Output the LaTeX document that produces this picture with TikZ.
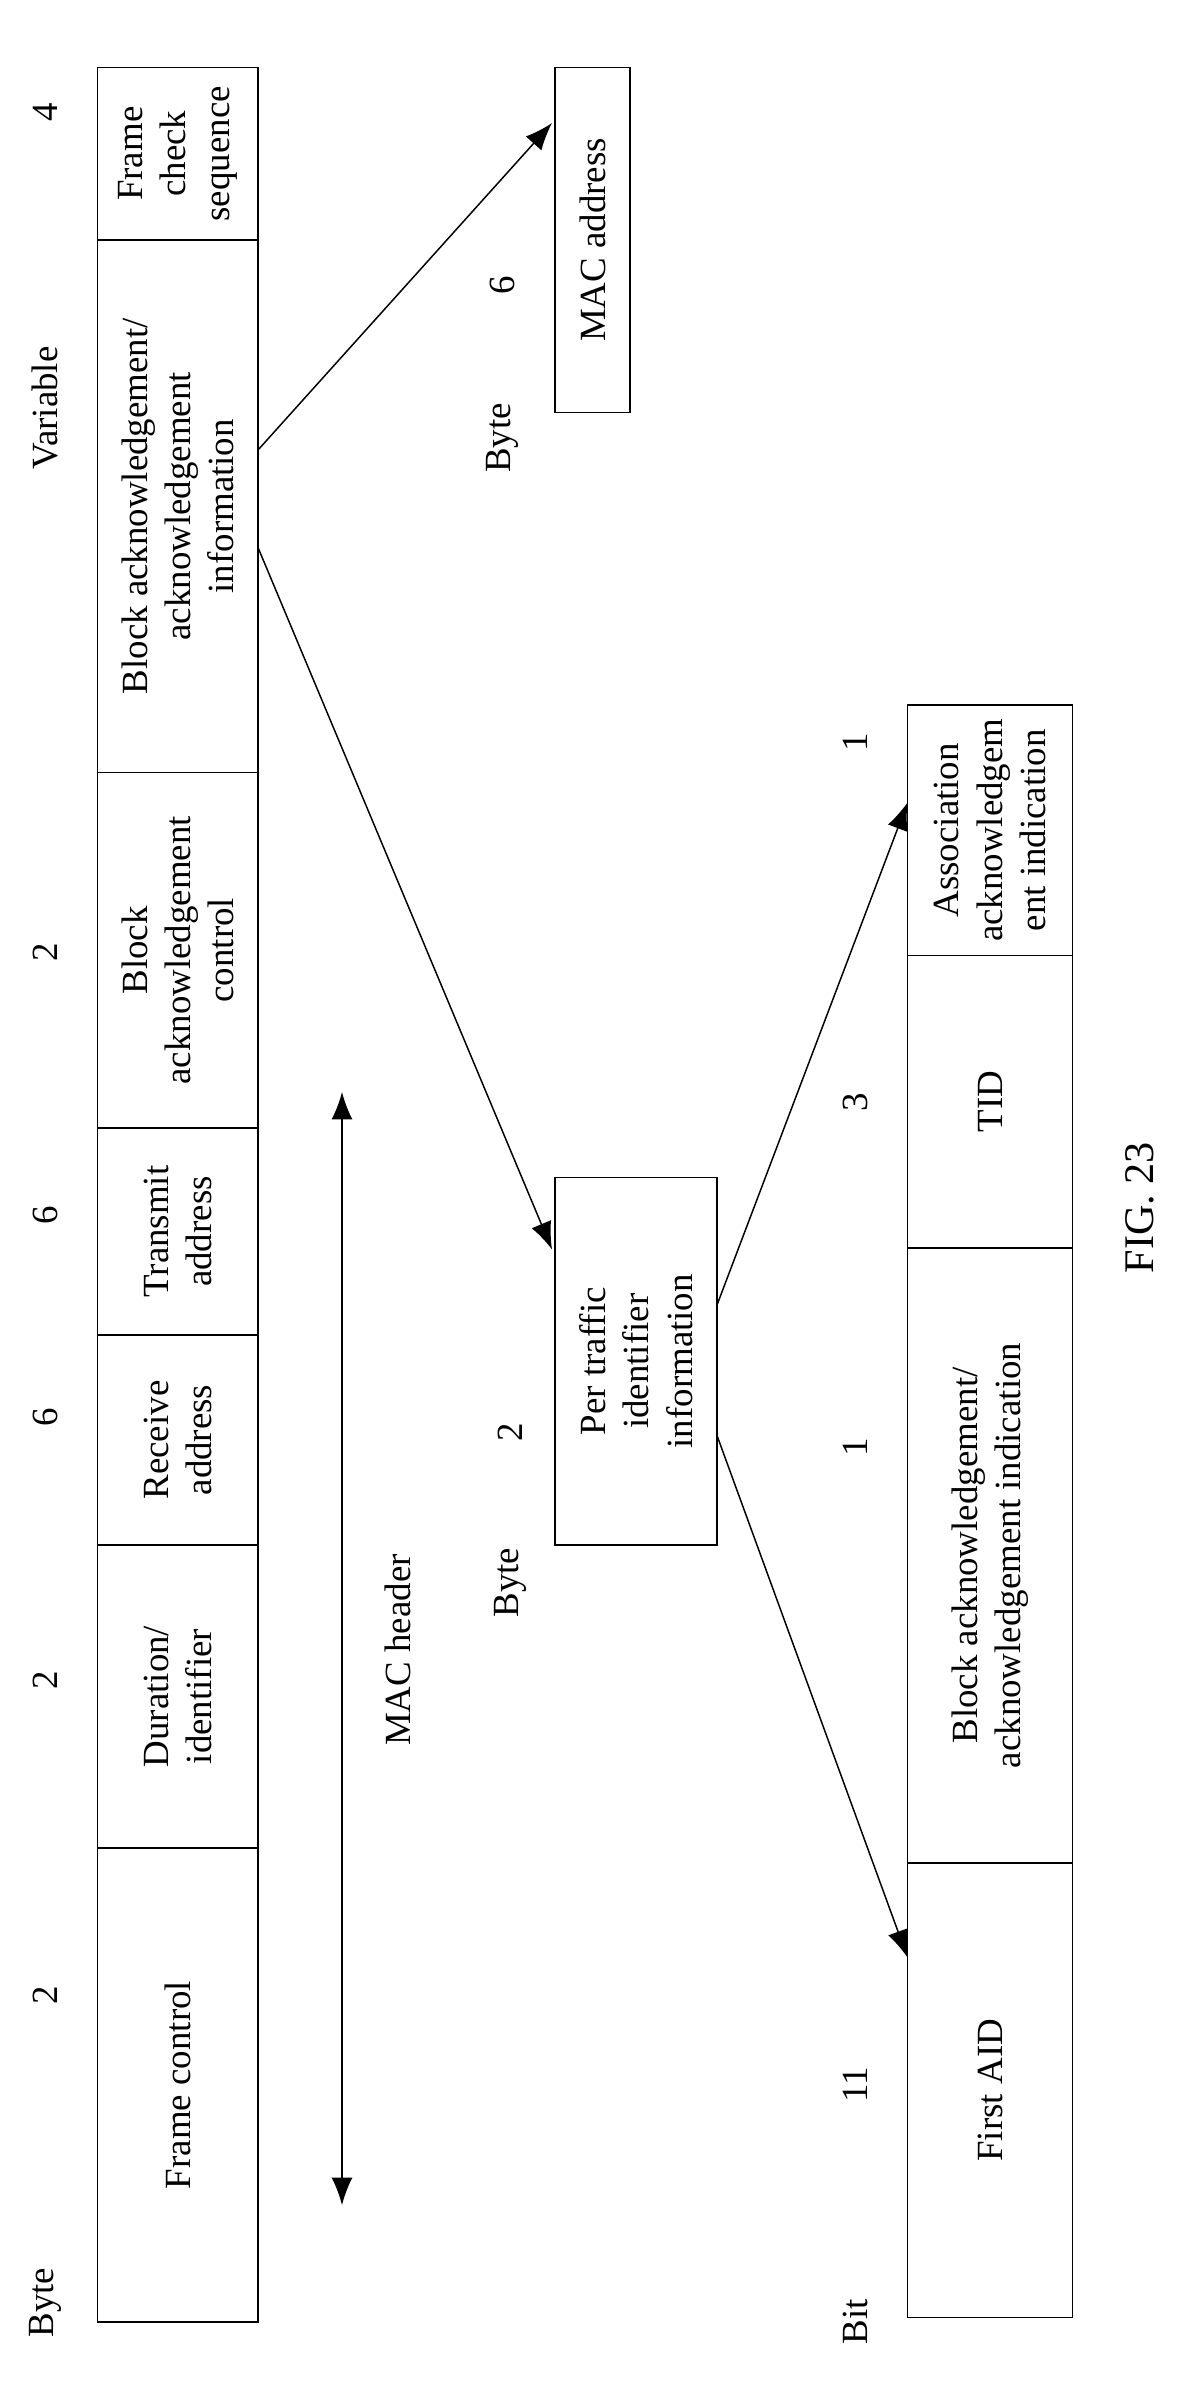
\documentclass[tikz,border=0pt]{standalone}
\usetikzlibrary{arrows.meta}
\usepackage{fontspec}
\setmainfont{Liberation Serif}
\begin{document}
\begin{tikzpicture}[x=0.05cm,y=-0.05cm,
  fld/.style={draw,line width=1.4pt,rotate=90,align=center,inner sep=0pt,font=\fontsize{35}{41}\selectfont},
  lbl/.style={rotate=90,font=\fontsize{35}{41}\selectfont,inner sep=0pt},
  arr/.style={line width=1.4pt,-{Latex[length=26pt,width=20pt]}}]
\useasboundingbox (0,0) rectangle (794.7,1588);
% top frame, x 65..172
\node[fld,minimum width=5.75cm,minimum height=5.35cm] (fcs) at (118.5,102.5) {Frame\\check\\sequence};
\node[fld,minimum width=17.75cm,minimum height=5.35cm] (bai) at (118.5,337.5) {Block acknowledgement/\\acknowledgement\\information};
\node[fld,minimum width=11.85cm,minimum height=5.35cm] (bac) at (118.5,633.5) {Block\\acknowledgement\\control};
\node[fld,minimum width=6.9cm,minimum height=5.35cm] (ta) at (118.5,821) {Transmit\\address};
\node[fld,minimum width=7cm,minimum height=5.35cm] (ra) at (118.5,960) {Receive\\address};
\node[fld,minimum width=10.1cm,minimum height=5.35cm] (dur) at (118.5,1131) {Duration/\\identifier};
\node[fld,minimum width=15.8cm,minimum height=5.35cm] (fc) at (118.5,1390) {Frame control};
\node[lbl] (b4) at (30,75) {4};
\node[lbl] (bv) at (30,272) {Variable};
\node[lbl] (b2a) at (30,635) {2};
\node[lbl] (b6a) at (30,810) {6};
\node[lbl] (b6b) at (30,945) {6};
\node[lbl] (b2b) at (30,1120) {2};
\node[lbl] (b2c) at (30,1330) {2};
\node[lbl] (byte1) at (30,1535) {Byte};
% MAC header
\coordinate (mh1) at (228,728);
\coordinate (mh2) at (228,1470);
\draw[line width=1.4pt,{Latex[length=26pt,width=20pt]}-{Latex[length=26pt,width=20pt]}] (mh1) -- (mh2);
\node[lbl] (mhl) at (265,1100) {MAC header};
% MAC address
\node[fld,minimum width=11.5cm,minimum height=2.5cm] (mac) at (395,160) {MAC address};
\node[lbl] (b6c) at (335,190) {6};
\node[lbl] (byte2) at (335,292) {Byte};
% per traffic
\node[fld,minimum width=12.25cm,minimum height=5.4cm] (pti) at (424,907.5) {Per traffic\\identifier\\information};
\node[lbl] (b2d) at (340,955) {2};
\node[lbl] (byte3) at (340,1055) {Byte};
% bottom frame x 605..715
\node[fld,minimum width=8.35cm,minimum height=5.5cm] (aai) at (660,553.5) {Association\\acknowledgem\\ent indication};
\node[fld,minimum width=9.75cm,minimum height=5.5cm] (tid) at (660,734.5) {TID};
\node[fld,minimum width=20.5cm,minimum height=5.5cm] (bai2) at (660,1037) {Block acknowledgement/\\acknowledgement indication};
\node[fld,minimum width=15.15cm,minimum height=5.5cm] (aid) at (660,1393.5) {First AID};
\node[lbl] (c1) at (570,495) {1};
\node[lbl] (c3) at (570,735) {3};
\node[lbl] (c1b) at (570,965) {1};
\node[lbl] (c11) at (570,1390) {11};
\node[lbl] (bit) at (570,1548) {Bit};
\node[lbl,font=\fontsize{40}{46}\selectfont] (fig) at (760,805) {FIG. 23};
% arrows
\coordinate (a1s) at (172,300); \coordinate (a1e) at (368,82);
\coordinate (a2s) at (172,365); \coordinate (a2e) at (368,833);
\coordinate (a3s) at (478,870); \coordinate (a3e) at (605,535);
\coordinate (a4s) at (478,957); \coordinate (a4e) at (605,1305);
\draw[arr] (a1s) -- (a1e);
\draw[arr] (a2s) -- (a2e);
\draw[arr] (a3s) -- (a3e);
\draw[arr] (a4s) -- (a4e);
\end{tikzpicture}
\end{document}
